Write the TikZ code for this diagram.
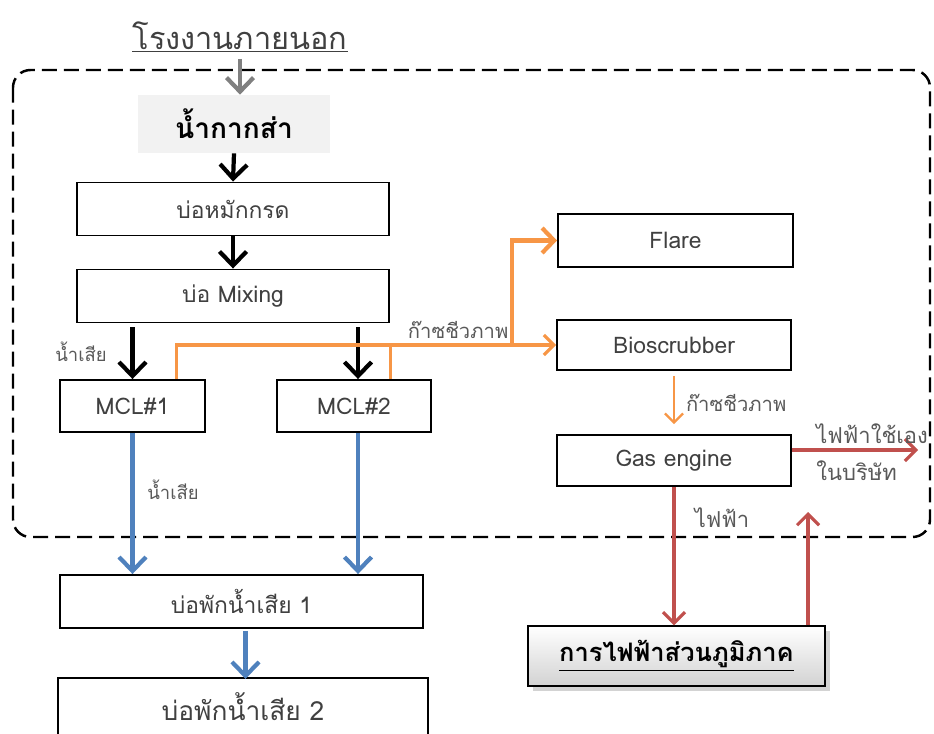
\documentclass[tikz,border=0pt]{standalone}
\usepackage{fontspec}
\setmainfont{Loma}[Script=Thai]
\usepackage{xcolor}
\usepackage{tikz}
\usetikzlibrary{arrows.meta,positioning,calc,shadows}
\definecolor{pink}{HTML}{404040}
\definecolor{plabel}{HTML}{595959}
\definecolor{pgas}{HTML}{F79646}
\definecolor{pwater}{HTML}{4F81BD}
\definecolor{ppower}{HTML}{C0504D}
\definecolor{pfeed}{HTML}{F2F2F2}
\tikzset{
  unitbox/.style={draw,line width=1.1pt,text=pink,minimum height=1.06cm,
    font=\fontsize{13}{15}\selectfont},
  flow/.style={line width=2.4pt,-{Straight Barb[length=2.8mm,width=5.4mm]}},
  gasline/.style={pgas,line width=1.8pt},
  tag/.style={text=plabel,font=\fontsize{11.5}{13}\selectfont},
  bigtag/.style={text=plabel,inner sep=0pt,font=\fontsize{12.5}{14}\selectfont}
}

\begin{document}
\begin{tikzpicture}
  \clip (0,0) rectangle (18.68,-14.66);
  \useasboundingbox (0,0) rectangle (18.68,-14.66);
  \draw[line width=1.4pt,dash pattern=on 0.3cm off 0.14cm,rounded corners=0.35cm]
    (0.26,-1.4) rectangle (18.6,-10.74);

  \node[text=pink,font=\fontsize{17.5}{20}\selectfont] (title) at (4.8,-0.74) {\underline{โรงงานภายนอก}};
  \node[fill=pfeed,minimum width=3.84cm,minimum height=1.16cm,font=\bfseries\fontsize{16}{18}\selectfont] (feed) at (4.68,-2.48) {น้ำกากส่า};
  \node[unitbox,minimum width=6.24cm] (acid) at (4.66,-4.18) {บ่อหมักกรด};
  \node[unitbox,minimum width=6.24cm] (mixing) at (4.66,-5.92) {บ่อ Mixing};
  \node[unitbox,minimum width=2.9cm,minimum height=1.04cm] (mcl1) at (2.65,-8.12) {MCL\#1};
  \node[unitbox,minimum width=3.08cm,minimum height=1.04cm] (mcl2) at (7.08,-8.12) {MCL\#2};
  \node[unitbox,minimum width=4.7cm] (flare) at (13.51,-4.81) {Flare};
  \node[unitbox,minimum width=4.68cm,minimum height=1.0cm] (bioscrub) at (13.48,-6.9) {Bioscrubber};
  \node[unitbox,minimum width=4.68cm,minimum height=1.02cm] (engine) at (13.48,-9.21) {Gas engine};
  \node[unitbox,minimum width=7.26cm] (pond1) at (4.83,-12.03) {บ่อพักน้ำเสีย 1};
  \node[unitbox,minimum width=7.4cm,minimum height=1.15cm,anchor=north,font=\fontsize{15}{17}\selectfont] (pond2) at (4.86,-13.54) {บ่อพักน้ำเสีย 2};
  \node[draw,line width=0.8pt,top color=white,bottom color=gray!35,drop shadow={opacity=0.35},
    minimum width=5.94cm,minimum height=1.2cm,font=\bfseries\fontsize{14.5}{17}\selectfont] (pea) at (13.53,-13.12) {\underline{การไฟฟ้าส่วนภูมิภาค}};

  \coordinate (split) at (10.24,-6.9);
  \coordinate (tap1) at ($(mcl1.north)!0.6!(mcl1.north east)$);
  \coordinate (tap2) at ($(mcl2.north)!0.47!(mcl2.north east)$);
  \coordinate (selfuse) at (18.36,-9.0);
  \coordinate (feedin) at (16.16,-10.24);

  \draw[flow,gray] (title.south) -- (title.south |- feed.north);
  \draw[flow] (feed.south) -- (acid.north);
  \draw[flow] (acid.south) -- (mixing.north);
  \draw[flow] ($(mcl1.north |- mixing.south)+(0,-0.08)$) -- (mcl1.north);
  \draw[flow] ($(mcl2.north |- mixing.south)+(0.08,-0.08)$) -- ($(mcl2.north)+(0.08,0)$);

  \draw[gasline] (tap1) |- (split);
  \draw[gasline] (tap2) -- (tap2 |- split);
  \draw[gasline,-{Straight Barb[length=2mm,width=4mm]}] (split) -- (bioscrub.west);
  \draw[gasline,line width=2.4pt,-{Straight Barb[length=2.4mm,width=5mm]}] (split) |- (flare.west);
  \node[tag,above left=0cm and -0.05cm of split] {ก๊าซชีวภาพ};
  \draw[pgas,line width=1.3pt,-{Straight Barb[length=1.8mm,width=3.6mm]},shorten <=0.1cm,shorten >=0.2cm]
    (bioscrub.south) -- node[tag,right=0.1cm] {ก๊าซชีวภาพ} (engine.north);

  \draw[ppower,line width=1.8pt,-{Straight Barb[length=2.2mm,width=4.4mm]}]
    (engine.east |- selfuse) -- (selfuse);
  \node[bigtag,anchor=south west] at ($(engine.east |- selfuse)+(0.48,0.12)$) {ไฟฟ้าใช้เอง};
  \node[bigtag,anchor=north west] at ($(engine.east |- selfuse)+(0.48,-0.2)$) {ในบริษัท};
  \draw[ppower,line width=1.8pt,-{Straight Barb[length=2.2mm,width=4.4mm]}]
    (engine.south) -- (engine.south |- pea.north);
  \draw[ppower,line width=1.8pt,-{Straight Barb[length=2.2mm,width=4.4mm]}]
    (pea.north -| feedin) -- (feedin);
  \node[bigtag] at (14.44,-10.36) {ไฟฟ้า};

  \draw[flow,pwater] (mcl1.south) -- (mcl1.south |- pond1.north);
  \draw[flow,pwater] ($(mcl2.south)+(0.08,0)$) -- ($(mcl2.south |- pond1.north)+(0.08,0)$);
  \draw[flow,pwater] ($(pond1.south)+(0.08,-0.04)$) -- ($(pond1.south |- pond2.north)+(0.08,-0.04)$);
  \node[tag,font=\fontsize{10.5}{12}\selectfont] at (3.46,-9.8) {น้ำเสีย};
  \node[tag,font=\fontsize{10.5}{12}\selectfont] at (1.62,-7.04) {น้ำเสีย};
\end{tikzpicture}
\end{document}
